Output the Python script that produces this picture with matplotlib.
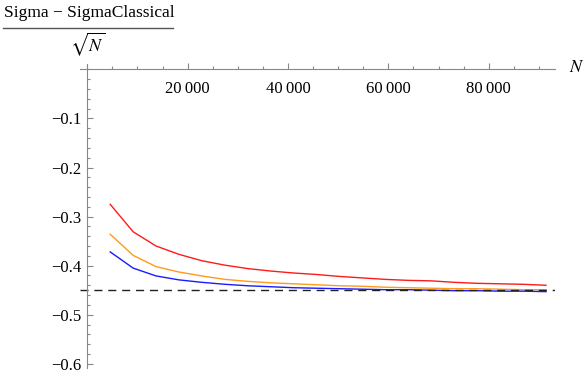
import numpy as np
import matplotlib.pyplot as plt
from matplotlib.ticker import FixedLocator, MultipleLocator
from matplotlib.lines import Line2D

plt.rcParams['font.family'] = ['Liberation Serif', 'DejaVu Serif']
plt.rcParams['mathtext.fontset'] = 'stix'

# data
N = [4570, 9140, 13710, 18280, 22850, 27420, 31990, 36560, 41130, 45700,
     50270, 54840, 59410, 63980, 68550, 73120, 77690, 82260, 86830, 91400]
red = [-0.275, -0.331, -0.360, -0.377, -0.390, -0.399, -0.406, -0.411, -0.415, -0.418,
       -0.422, -0.425, -0.428, -0.430, -0.431, -0.434, -0.436, -0.437, -0.438, -0.440]
orange = [-0.336, -0.379, -0.402, -0.413, -0.421, -0.428, -0.432, -0.435, -0.437, -0.439,
          -0.441, -0.442, -0.444, -0.445, -0.446, -0.447, -0.447, -0.448, -0.449, -0.449]
blue = [-0.372, -0.405, -0.421, -0.429, -0.434, -0.438, -0.441, -0.443, -0.445, -0.446,
        -0.447, -0.448, -0.449, -0.449, -0.450, -0.451, -0.451, -0.452, -0.452, -0.453]
classical = -0.45

xticks = [20000, 40000, 60000, 80000]
xticklabels = ['20\u2009000', '40\u2009000', '60\u2009000', '80\u2009000']
yticks = [-0.1, -0.2, -0.3, -0.4, -0.5, -0.6]
yticklabels = ['\u22120.1', '\u22120.2', '\u22120.3', '\u22120.4', '\u22120.5', '\u22120.6']

fig = plt.figure(figsize=(5.84, 3.74), dpi=100)
# axes box in pixels: x 80..555, y 64..368
ax = fig.add_axes([80/584, 1 - 368/374, 475/584, 304/374])

ax.plot(N, red, color='#ff1a1a', lw=1.0)
ax.plot(N, orange, color='#ff9a1a', lw=1.0)
ax.plot(N, blue, color='#1a1aff', lw=1.0)
ax.axhline(classical, color='#202020', lw=1.0, ls=(0, (5.8, 4.2)))

ax.set_xlim(-1450, 93200)
ax.set_ylim(-0.6086, 0.011)

for s in ['top', 'right']:
    ax.spines[s].set_visible(False)
ax.spines['left'].set_position(('data', 0))
ax.spines['bottom'].set_position(('data', 0))
for s in ['left', 'bottom']:
    ax.spines[s].set_color('#888888')
    ax.spines[s].set_linewidth(0.8)

ax.xaxis.set_major_locator(FixedLocator(xticks))
ax.set_xticklabels(xticklabels)
ax.xaxis.set_minor_locator(MultipleLocator(5000))
ax.yaxis.set_major_locator(FixedLocator(yticks))
ax.set_yticklabels(yticklabels)
ax.yaxis.set_minor_locator(MultipleLocator(0.02))

ax.tick_params(which='both', direction='in', color='#888888', width=0.8,
               labelsize=12, labelcolor='black')
ax.tick_params(which='major', length=4.5)
ax.tick_params(which='minor', length=2.5)
ax.tick_params(axis='x', pad=8)
ax.tick_params(axis='y', pad=4)

# axis labels
fig.text(577/584, 1 - 67/374, '$N$', fontsize=13, ha='center', va='center')
fig.text(4/584, 1 - 13/374, 'Sigma \u2212 SigmaClassical', fontsize=12.5,
         ha='left', va='center')
fig.add_artist(Line2D([3/584, 173/584], [1 - 28/374, 1 - 28/374],
                      color='#555555', lw=1.0, transform=fig.transFigure))
fig.text(88/584, 1 - 44/374, r'$\sqrt{N}$', fontsize=13, ha='center', va='center')

fig.savefig('out.png', dpi=100)
